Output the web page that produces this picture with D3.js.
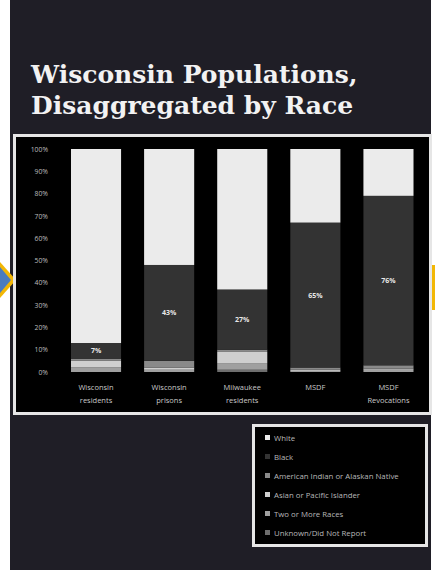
<!DOCTYPE html>
<html>
<head>
<meta charset="utf-8">
<script src="https://cdn.jsdelivr.net/npm/d3@7"></script>
<style>
  body { margin: 0; background: #fff; }
  svg { display: block; }
</style>
</head>
<body>
<svg id="chart" width="435" height="570"></svg>
<script>
// data, in percent
let categories = ["Wisconsin residents", "Wisconsin prisons", "Milwaukee residents", "MSDF", "MSDF Revocations"];
let white   = [87, 52, 63, 33, 21];
let black   = [7, 43, 27, 65, 76];
let amInd   = [1, 3, 1, 1, 1.5];
let asian   = [3, 1, 5, 0.5, 0.5];
let twoMore = [2, 1, 3, 0.5, 1];
let unknown = [0, 0, 1, 0, 0];
let yTicks = [0, 10, 20, 30, 40, 50, 60, 70, 80, 90, 100];
let legendNames = ["White", "Black", "American Indian or Alaskan Native", "Asian or Pacific Islander", "Two or More Races", "Unknown/Did Not Report"];

let svg = d3.select("#chart");

// page panel
svg.append("rect").attr("x", 10).attr("y", 0).attr("width", 421).attr("height", 570).attr("fill", "#1f1e26");

// side arrows
svg.append("path").attr("d", "M0,262 L16,280 L0,298 Z").attr("fill", "#f2b705");
svg.append("path").attr("d", "M0,267 L11,280 L0,293 Z").attr("fill", "#4a7cc0");
svg.append("rect").attr("x", 432).attr("y", 265).attr("width", 3).attr("height", 45).attr("fill", "#f2b705");

// title
let title = svg.append("text")
    .attr("fill", "#f2f2f2")
    .style("font-family", "'DejaVu Serif', serif")
    .style("font-weight", "bold")
    .style("font-size", "25px");
title.append("tspan").attr("x", 31).attr("y", 83).text("Wisconsin Populations,");
title.append("tspan").attr("x", 31).attr("y", 114).text("Disaggregated by Race");

// chart box
svg.append("rect").attr("x", 14.5).attr("y", 135.5).attr("width", 416).attr("height", 278)
    .attr("fill", "#000").attr("stroke", "#e6e6e6").attr("stroke-width", 3);

let x = d3.scaleBand().domain(categories).range([59.3, 425.2]).paddingInner(0.315).paddingOuter(0.16);
let y = d3.scaleLinear().domain([0, 100]).range([372, 149]);

let series = [
    {name: "Unknown/Did Not Report", values: unknown, color: "#6e6e6e"},
    {name: "Two or More Races", values: twoMore, color: "#a0a0a0"},
    {name: "Asian or Pacific Islander", values: asian, color: "#cfcfcf"},
    {name: "American Indian or Alaskan Native", values: amInd, color: "#8a8a8a"},
    {name: "Black", values: black, color: "#333333"},
    {name: "White", values: white, color: "#ebebeb"}
];
let colorOf = {};
series.forEach(s => colorOf[s.name] = s.color);

let rows = categories.map(function(c, i){
    let r = {category: c};
    series.forEach(s => r[s.name] = s.values[i]);
    return r;
});
let stacked = d3.stack().keys(series.map(s => s.name))(rows);

let g = svg.append("g");
stacked.forEach(function(layer){
    g.selectAll(null).data(layer).enter().append("rect")
        .attr("x", d => x(d.data.category))
        .attr("width", x.bandwidth())
        .attr("y", d => y(d[1]))
        .attr("height", d => y(d[0]) - y(d[1]))
        .attr("fill", colorOf[layer.key]);
});

// labels on Black segment
let blackLayer = stacked.find(l => l.key == "Black");
g.selectAll(null).data(blackLayer).enter().append("text")
    .attr("x", d => x(d.data.category) + x.bandwidth() / 2)
    .attr("y", d => (y(d[0]) + y(d[1])) / 2 + 2.5)
    .attr("text-anchor", "middle")
    .attr("fill", "#e8e8e8")
    .style("font-family", "'Open Sans', sans-serif")
    .style("font-weight", "bold")
    .style("font-size", "7px")
    .text(d => (d[1] - d[0]) + "%");

// y axis
let yAxis = svg.append("g").attr("transform", "translate(48,0)")
    .call(d3.axisLeft(y).tickValues(yTicks).tickFormat(d => d + "%").tickSize(0).tickPadding(0));
yAxis.select(".domain").remove();
yAxis.selectAll("text")
    .attr("text-anchor", "end")
    .attr("fill", "#bdbdbd")
    .style("font-family", "'Open Sans', sans-serif")
    .style("font-size", "6.8px");

// category labels
let xl = svg.append("g").selectAll("text").data(categories).enter().append("text")
    .attr("x", d => x(d) + x.bandwidth() / 2)
    .attr("y", 390)
    .attr("text-anchor", "middle")
    .attr("fill", "#c8c8c8")
    .style("font-family", "'Open Sans', sans-serif")
    .style("font-size", "7.5px");
xl.each(function(d){
    let words = d.split(" ");
    let first = words.length > 1 ? words.slice(0, -1).join(" ") : words[0];
    let t = d3.select(this);
    t.append("tspan").attr("x", x(d) + x.bandwidth() / 2).attr("dy", 0).text(first);
    if (words.length > 1) {
        t.append("tspan").attr("x", x(d) + x.bandwidth() / 2).attr("dy", 13).text(words[words.length - 1]);
    }
});

// legend
svg.append("rect").attr("x", 253.5).attr("y", 425.5).attr("width", 173).attr("height", 120)
    .attr("fill", "#000").attr("stroke", "#e6e6e6").attr("stroke-width", 3);
let leg = svg.append("g").selectAll("g").data(legendNames).enter().append("g")
    .attr("transform", (d, i) => "translate(265," + (438 + i * 19) + ")");
leg.append("rect").attr("x", 0).attr("y", -3).attr("width", 5).attr("height", 5)
    .attr("fill", d => colorOf[d]);
leg.append("text").attr("x", 9).attr("y", 2.5)
    .attr("fill", "#b8b8b8")
    .style("font-family", "'Open Sans', sans-serif")
    .style("font-size", "7.8px")
    .text(d => d);
</script>
</body>
</html>
